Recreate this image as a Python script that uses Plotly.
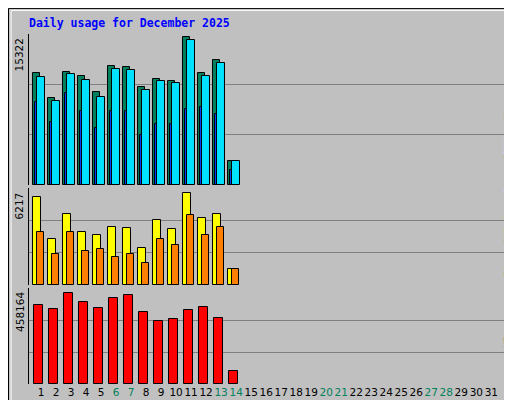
import plotly.graph_objects as go

days = list(range(1, 32))
hits = [11590, 9025, 11720, 11275, 9615, 12310, 12210, 10135, 10995, 10755, 15322, 11590, 12935, 2460]
files = [11175, 8680, 11480, 10860, 9095, 12000, 11900, 9820, 10755, 10550, 15010, 11275, 12625, 2460]
pages = [8580, 6505, 9510, 7645, 5880, 7645, 7645, 5155, 6295, 6295, 7850, 8060, 7335, 1525]
visits = [5950, 3120, 4805, 3590, 3390, 3930, 3860, 2515, 4400, 3795, 6217, 4535, 4805, 1105]
sites = [3590, 2110, 3590, 2315, 2450, 1910, 2110, 1505, 3120, 2720, 4735, 3390, 3930, 1105]
kbytes = [398000, 378000, 458164, 413000, 383000, 433000, 448000, 363000, 318000, 328000,
          373000, 388000, 333000, 67000]
weekend = [6, 7, 13, 14, 20, 21, 27, 28]

C_HITS, C_FILES, C_PAGES = "#00805C", "#00E0FF", "#0040FF"
C_VISITS, C_SITES, C_KB = "#FFFF00", "#FF8000", "#FF0000"
GREEN_TXT = "#00805C"
MONO = "DejaVu Sans Mono"

x = days[:len(hits)]
fig = go.Figure()

def bars(y, color, offset, width, yaxis):
    fig.add_trace(go.Bar(x=x, y=y, marker=dict(color=color, line=dict(color="black", width=1)),
                         offset=offset, width=width, xaxis="x", yaxis=yaxis, showlegend=False))

bars(hits, C_HITS, -0.55, 0.5, "y")
bars(files, C_FILES, -0.3, 0.57, "y")
bars(pages, C_PAGES, -0.43, 0.13, "y")
bars(visits, C_VISITS, -0.55, 0.52, "y2")
bars(sites, C_SITES, -0.3, 0.52, "y2")
bars(kbytes, C_KB, -0.45, 0.55, "y3")

def yax(domain, vmax, frac):
    top = vmax / frac
    return dict(domain=domain, range=[0, top], tickvals=[top / 3, 2 * top / 3], showticklabels=False,
                gridcolor="#808080", gridwidth=1, showline=True, linecolor="black", mirror=True,
                zeroline=False, anchor="x", fixedrange=True)

ticktext = [f"<span style='color:{GREEN_TXT}'>{d}</span>" if d in weekend else str(d) for d in days]

fig.update_layout(
    width=512, height=400, margin=dict(l=0, r=0, t=0, b=0),
    paper_bgcolor="#C0C0C0", plot_bgcolor="#C0C0C0", bargap=0,
    font=dict(family="DejaVu Sans", size=11, color="black"),
    xaxis=dict(domain=[0.041, 0.988], range=[0.2, 32.5], tickvals=days, ticktext=ticktext,
               tickangle=0, showgrid=False, ticks="", showline=False,
               tickfont=dict(size=10.5), anchor="y3"),
    yaxis=yax([0.5575, 0.935], max(hits), 147.7 / 151),
    yaxis2=yax([0.3075, 0.55], max(visits), 92.4 / 97),
    yaxis3=yax([0.06, 0.30], max(kbytes), 91.4 / 96),
)

# frame
fig.add_shape(type="rect", xref="paper", yref="paper", x0=0.001, x1=0.999, y0=0.001, y1=0.999,
              line=dict(color="black", width=1))
fig.add_shape(type="rect", xref="paper", yref="paper", x0=0.006, x1=0.992, y0=0.012, y1=0.994,
              line=dict(color="white", width=1))

fig.add_annotation(text="<b>Daily usage for December 2025</b>", xref="paper", yref="paper",
                   x=0.037, y=0.985, xanchor="left", yanchor="top", showarrow=False,
                   font=dict(family=MONO, size=11.5, color="#0000FF"))

for label, yc in [(str(max(hits)), 0.935), (str(max(visits)), 0.55), (str(max(kbytes)), 0.30)]:
    fig.add_annotation(text=label, xref="paper", yref="paper", x=0.039, y=yc - 0.005, textangle=-90,
                       xanchor="right", yanchor="top", showarrow=False, font=dict(size=10.5))

def side(parts, yc):
    txt = "<span style='color:black'>/</span>".join(f"<span style='color:{c}'>{t}</span>" for t, c in parts)
    fig.add_annotation(text=txt, xref="paper", yref="paper", x=0.992, y=yc, textangle=-90,
                       xanchor="right", showarrow=False, font=dict(family=MONO, size=10.5))

side([("Pages", C_FILES), ("Files", C_FILES), ("Hits", C_HITS)], 0.795)
side([("Sites", C_SITES), ("Visits", C_VISITS)], 0.42)
side([("KBytes", C_KB)], 0.145)

fig.write_html("out.html")
